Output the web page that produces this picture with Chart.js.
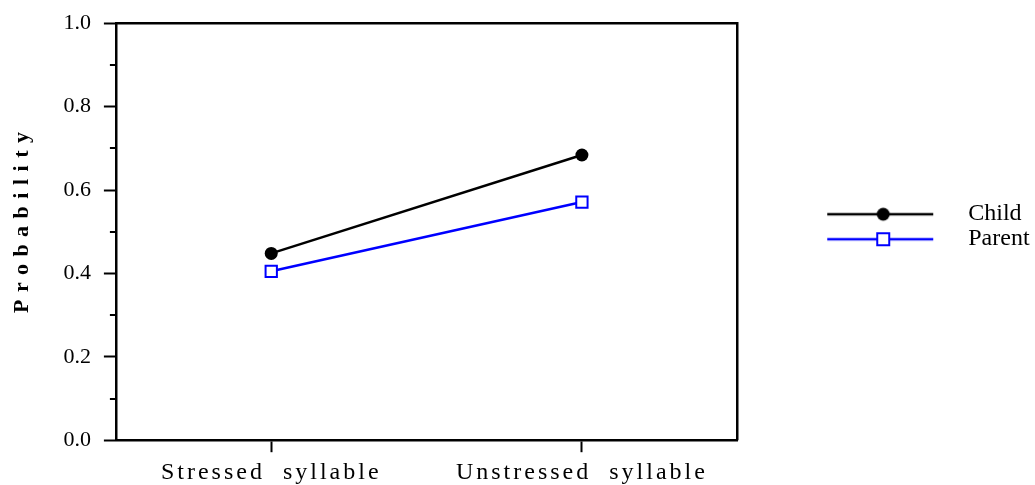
<!DOCTYPE html>
<html>
<head>
<meta charset="utf-8">
<script src="https://cdn.jsdelivr.net/npm/chart.js@4/dist/chart.umd.min.js"></script>
<style>
  body { margin: 0; background: #fff; }
  #wrap { width: 1035px; height: 485px; }
</style>
</head>
<body>
<div id="wrap"><canvas id="probChart"></canvas></div>
<script>
const categories = ['Stressed\u00a0\u00a0syllable', 'Unstressed\u00a0\u00a0syllable'];
const childValues = [0.448, 0.684];
const parentValues = [0.405, 0.571];
const yTicks = [0, 0.2, 0.4, 0.6, 0.8, 1.0];

const serif = "'Liberation Serif', 'Times New Roman', serif";

// legend icon: a line with the marker in the middle
function legendIcon(color, shape) {
  const c = document.createElement('canvas');
  c.width = 218;
  c.height = 18;
  const ctx = c.getContext('2d');
  ctx.strokeStyle = color;
  ctx.lineWidth = 2.5;
  ctx.beginPath();
  ctx.moveTo(89, 9);
  ctx.lineTo(195, 9);
  ctx.stroke();
  if (shape === 'circle') {
    ctx.fillStyle = color;
    ctx.beginPath();
    ctx.arc(145, 9, 6.5, 0, Math.PI * 2);
    ctx.fill();
  } else {
    ctx.lineWidth = 2;
    ctx.fillStyle = '#fff';
    ctx.fillRect(139, 3, 12, 12);
    ctx.strokeRect(139, 3, 12, 12);
  }
  return c;
}

// box around plot, short minor ticks, letter spacing on axis texts
const framePlugin = {
  id: 'frame',
  beforeDraw(chart) {
    const x = chart.scales.x, y = chart.scales.y, lg = chart.legend;
    if (!x._spaced) {
      const xl = x.drawLabels;
      x.drawLabels = function (a) {
        this.ctx.save();
        this.ctx.letterSpacing = '3px';
        this.ctx.translate(0, 4);
        xl.call(this, a);
        this.ctx.restore();
      };
      x._spaced = true;
    }
    if (!y._spaced) {
      const yl = y.drawLabels;
      y.drawLabels = function (a) {
        this.ctx.save();
        this.ctx.translate(-3, 0);
        yl.call(this, a);
        this.ctx.restore();
      };
      const yt = y.drawTitle;
      y.drawTitle = function (a) {
        this.ctx.save();
        this.ctx.letterSpacing = '7.5px';
        this.ctx.translate(0, -13);
        yt.call(this, a);
        this.ctx.restore();
      };
      y._spaced = true;
    }
    // legend text runs past the legend box, so no clipping there
    if (lg && !lg._spaced && typeof lg._draw === 'function') {
      lg.draw = function () {
        this.ctx.save();
        this.ctx.translate(0, -5);
        this._draw();
        this.ctx.restore();
      };
      lg._spaced = true;
    }
  },
  afterDraw(chart) {
    const {ctx, chartArea: a} = chart;
    const y = chart.scales.y;
    ctx.save();
    ctx.strokeStyle = '#000';
    ctx.lineWidth = 2.5;
    ctx.beginPath();
    ctx.moveTo(a.left, a.top);
    ctx.lineTo(a.right, a.top);
    ctx.lineTo(a.right, a.bottom);
    ctx.stroke();
    ctx.lineWidth = 2;
    y.ticks.forEach((t, i) => {
      if (i % 2 === 1) {
        const py = Math.round(y.getPixelForValue(t.value));
        ctx.beginPath();
        ctx.moveTo(a.left - 6, py);
        ctx.lineTo(a.left, py);
        ctx.stroke();
      }
    });
    ctx.restore();
  }
};

new Chart(document.getElementById('probChart'), {
  type: 'line',
  data: {
    labels: categories,
    datasets: [
      {
        label: 'Child',
        data: childValues,
        borderColor: '#000',
        backgroundColor: '#000',
        borderWidth: 2.5,
        pointStyle: 'circle',
        pointRadius: 6.5,
        pointBackgroundColor: '#000',
        pointBorderWidth: 0,
        tension: 0
      },
      {
        label: 'Parent',
        data: parentValues,
        borderColor: '#0000ff',
        backgroundColor: '#fff',
        borderWidth: 2.5,
        pointStyle: 'rect',
        pointRadius: 8,
        pointBackgroundColor: '#fff',
        pointBorderColor: '#0000ff',
        pointBorderWidth: 2,
        tension: 0
      }
    ]
  },
  options: {
    responsive: true,
    maintainAspectRatio: false,
    animation: false,
    layout: { padding: { top: 10, right: 52, bottom: 0, left: 0 } },
    plugins: {
      tooltip: { enabled: false },
      legend: {
        position: 'right',
        align: 'center',
        fullSize: false,
        labels: {
          usePointStyle: true,
          pointStyleWidth: 218,
          padding: 1,
          color: '#000',
          font: { family: serif, size: 24 },
          generateLabels(chart) {
            return chart.data.datasets.map((ds, i) => ({
              text: ds.label,
              pointStyle: legendIcon(ds.borderColor, ds.pointStyle === 'circle' ? 'circle' : 'rect'),
              fillStyle: 'transparent',
              strokeStyle: 'transparent',
              lineWidth: 0,
              fontColor: '#000',
              datasetIndex: i
            }));
          }
        }
      }
    },
    scales: {
      x: {
        type: 'category',
        offset: true,
        grid: {
          drawOnChartArea: false,
          tickLength: 12,
          tickWidth: 2,
          tickColor: '#000'
        },
        border: { display: true, color: '#000', width: 2.5 },
        ticks: {
          color: '#000',
          padding: 2,
          font: { family: serif, size: 24 },
          maxRotation: 0
        }
      },
      y: {
        min: 0,
        max: 1,
        ticks: {
          stepSize: 0.1,
          color: '#000',
          padding: 10,
          font: { family: serif, size: 22 },
          callback: (v) => {
            const hit = yTicks.find(t => Math.abs(t - v) < 1e-6);
            return hit === undefined ? '' : hit.toFixed(1);
          }
        },
        grid: {
          drawOnChartArea: false,
          tickLength: 12,
          tickWidth: 2,
          tickColor: (c) => (c.index % 2 === 0 ? '#000' : 'transparent')
        },
        border: { display: true, color: '#000', width: 2.5 },
        title: {
          display: true,
          text: 'Probability',
          color: '#000',
          font: { family: serif, size: 22, weight: 'bold' },
          padding: { top: 9, bottom: 21 }
        }
      }
    }
  },
  plugins: [framePlugin]
});
</script>
</body>
</html>
